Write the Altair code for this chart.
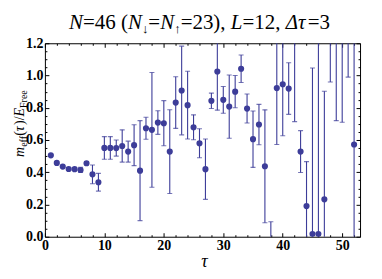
import altair as alt
import pandas as pd

tau = list(range(1, 53))
m_eff = [0.505, 0.458, 0.435, 0.42, 0.419, 0.414, 0.456,
         0.387, 0.338, 0.551, 0.551, 0.55, 0.563, 0.528, 0.568, 0.41, 0.673,
         0.663, 0.708, 0.704, 0.528, 0.832, 0.907, 0.816, 0.679, 0.58, 0.419,
         0.843, 1.025, 0.849, 0.807, 0.90, 1.042, 0.795, 0.605, 0.696, 0.437,
         -0.1, 0.922, 0.946, 0.919, 1.3, 0.528, 0.19, 0.017, 0.017, 0.232,
         1.6, 1.4, 1.5, 1.5, 0.572]
m_err = [0.004, 0.005, 0.006, 0.008, 0.008, 0.016, 0.01,
         0.058, 0.055, 0.07, 0.07, 0.05, 0.1, 0.065, 0.127, 0.31, 0.068,
         0.356, 0.073, 0.14, 0.26, 0.16, 0.275, 0.21, 0.077, 0.09, 0.187,
         0.048, 0.24, 0.083, 0.196, 0.1, 0.085, 0.09, 0.175, 0.125, 0.35,
         0.193, 0.35, 0.32, 0.16, 0.586, 0.13, 0.276, 1.03, 1.3, 0.67,
         0.64, 0.68, 0.79, 0.51, 0.9]

x_major = [0, 10, 20, 30, 40, 50]
x_minor = [v for v in range(2, 53, 2) if v % 10 != 0]
y_major = [0.0, 0.2, 0.4, 0.6, 0.8, 1.0, 1.2]
y_minor = [round(i * 0.05, 2) for i in range(25) if i % 4 != 0]

df = pd.DataFrame({"tau": tau, "v": m_eff, "e": m_err})
df["lo"] = df["v"] - df["e"]
df["hi"] = df["v"] + df["e"]

C = "#3d3d99"
FONT = "Liberation Serif"
W, H = 316, 194

xs = alt.Scale(domain=[0, 53], nice=False, zero=False)
ys = alt.Scale(domain=[0, 1.2], nice=False, zero=False)

common = dict(grid=False, domain=False, tickColor="black", tickWidth=1, title=None)


def ax(orient, values, size, labels=False):
    kw = dict(common)
    if labels:
        kw.update(labelFont=FONT, labelFontWeight="bold", labelFontSize=14,
                  labelColor="black", labelFlush=False, labelPadding=2)
    else:
        kw.update(labels=False)
    return alt.Axis(orient=orient, values=values, tickSize=size, offset=-size, **kw)


base = alt.Chart(df)

rules = base.mark_rule(color=C, strokeWidth=1.1, clip=True).encode(
    x=alt.X("tau:Q", scale=xs, axis=ax("bottom", x_major, 4, True)),
    y=alt.Y("lo:Q", scale=ys, axis=ax("left", y_major, 4, True)),
    y2="hi:Q",
)
caps_lo = base.mark_tick(orient="horizontal", size=5, thickness=1.1, color=C, clip=True).encode(
    x=alt.X("tau:Q", scale=xs, axis=ax("bottom", x_minor, 2)),
    y=alt.Y("lo:Q", scale=ys, axis=ax("left", y_minor, 2)),
)
caps_hi = base.mark_tick(orient="horizontal", size=5, thickness=1.1, color=C, clip=True).encode(
    x=alt.X("tau:Q", scale=xs, axis=ax("top", x_major, 4)),
    y=alt.Y("hi:Q", scale=ys, axis=ax("right", y_major, 4)),
)
points = base.mark_circle(size=38, color=C, opacity=1, clip=True).encode(
    x=alt.X("tau:Q", scale=xs, axis=ax("top", x_minor, 2)),
    y=alt.Y("v:Q", scale=ys, axis=ax("right", y_minor, 2)),
)

# text helpers (approximate Liberation Serif advance widths, em units)
REG = {c: 0.5 for c in "0123456789"}
REG.update({" ": 0.25, "(": 0.333, ")": 0.333, ",": 0.25, "=": 0.564, "/": 0.278,
            "F": 0.556, "r": 0.333, "e": 0.444, "f": 0.333, "↓": 0.5, "↑": 0.5})
ITA = {"N": 0.667, "L": 0.556, "Δ": 0.61, "τ": 0.44, "m": 0.722, "E": 0.611}


def width(t, italic, size):
    tab = ITA if italic else REG
    return sum(tab.get(c, 0.5) for c in t) * size


def seg(text, x, y, size, italic, angle=0, align="left"):
    return alt.Chart(alt.Data(values=[{"k": 1}])).mark_text(
        text=text, font=FONT, fontSize=size, fontStyle="italic" if italic else "normal",
        color="black", align=align, baseline="alphabetic", angle=angle,
    ).encode(x=alt.value(x), y=alt.value(y))


texts = []
# title, centred over the plot
title_parts = [("N", True, False), ("=46 (", False, False), ("N", True, False),
               ("↓", False, True), ("=", False, False), ("N", True, False),
               ("↑", False, True), ("=23), ", False, False), ("L", True, False),
               ("=12, ", False, False), ("Δτ", True, False), ("=3", False, False)]
TS, TSUB = 21, 13
total = sum(width(t, it, TSUB if sub else TS) for t, it, sub in title_parts)
cx = 155 - total / 2
for t, it, sub in title_parts:
    size = TSUB if sub else TS
    texts.append(seg(t, cx, -14 + (4 if sub else 0), size, it))
    cx += width(t, it, size)

# y-axis title (rotated)
ylab_parts = [("m", True, False), ("eff", False, True), ("(", False, False),
              ("τ", True, False), (")/", False, False), ("E", True, False),
              ("Free", False, True)]
cy = 114
for t, it, sub in ylab_parts:
    size = 10 if sub else 14
    texts.append(seg(t, -21 + (3 if sub else 0), cy, size, it, angle=270))
    cy -= width(t, it, size)

# x-axis title
texts.append(seg("τ", 160, 224, 18, True, align="center"))

chart = alt.layer(rules, caps_lo, caps_hi, points, *texts).resolve_axis(
    x="independent", y="independent"
).properties(
    width=W, height=H,
    autosize=alt.AutoSizeParams(type="none"),
    padding={"left": 37, "top": 35, "right": 14, "bottom": 34},
).configure_view(stroke="black", strokeWidth=1)

chart.save("out.html", embed_options={"renderer": "svg", "actions": False})
